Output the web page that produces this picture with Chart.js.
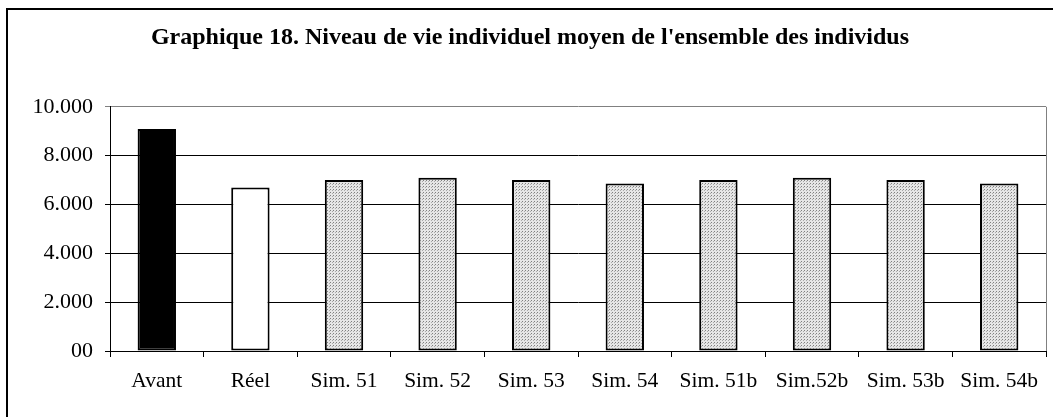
<!DOCTYPE html>
<html>
<head>
<meta charset="utf-8">
<script src="https://cdn.jsdelivr.net/npm/chart.js@4"></script>
<style>
  html, body { margin: 0; padding: 0; background: #fff; }
  #wrap { width: 1056px; height: 417px; position: relative; }
</style>
</head>
<body>
<div id="wrap"><canvas id="chrt" width="1056" height="417"></canvas></div>
<script>
// chart data
const labels = ['Avant', 'Réel', 'Sim. 51', 'Sim. 52', 'Sim. 53', 'Sim. 54', 'Sim. 51b', 'Sim.52b', 'Sim. 53b', 'Sim. 54b'];
const values = [9090, 6700, 7000, 7090, 7000, 6860, 7000, 7090, 7000, 6860];
const yTicks = [0, 2000, 4000, 6000, 8000, 10000];
const yTickLabels = ['00', '2.000', '4.000', '6.000', '8.000', '10.000'];
const titleText = "Graphique 18. Niveau de vie individuel moyen de l'ensemble des individus";

// dotted grey fill like the old excel pattern
function dotPattern() {
    let c = document.createElement('canvas');
    c.width = 3; c.height = 3;
    let g = c.getContext('2d');
    g.fillStyle = '#e6e6e6';
    g.fillRect(0, 0, 3, 3);
    g.fillStyle = '#808080';
    g.fillRect(0, 0, 1, 1);
    g.fillStyle = '#aaaaaa';
    g.fillRect(2, 1, 1, 1);
    return g.createPattern(c, 'repeat');
}

let ctx = document.getElementById('chrt').getContext('2d');
let dots = dotPattern();
let fills = values.map(function(v, i) {
    if (i === 0) return '#000000';
    if (i === 1) return '#ffffff';
    return dots;
});

const framePlugin = {
    id: 'frame',
    beforeDraw: function(chart) {
        let c = chart.ctx;
        c.save();
        c.fillStyle = '#fff';
        c.fillRect(0, 0, chart.width, chart.height);
        c.strokeStyle = '#000';
        c.lineWidth = 2;
        c.beginPath();
        c.moveTo(7, 417);
        c.lineTo(7, 9);
        c.lineTo(1053, 9);
        c.stroke();
        c.restore();
    },
    afterDraw: function(chart) {
        let a = chart.chartArea;
        let c = chart.ctx;
        c.save();
        c.strokeStyle = '#808080';
        c.lineWidth = 1;
        c.beginPath();
        c.moveTo(a.right + 0.5, a.top);
        c.lineTo(a.right + 0.5, a.bottom);
        c.stroke();
        c.restore();
    }
};

let myBar = new Chart(ctx, {
    type: 'bar',
    data: {
        labels: labels,
        datasets: [{
            data: values,
            backgroundColor: fills,
            borderColor: '#000',
            borderWidth: 2,
            borderSkipped: false,
            categoryPercentage: 1,
            barPercentage: 0.41
        }]
    },
    options: {
        responsive: false,
        animation: false,
        layout: { padding: { left: 14, right: 10, top: 0, bottom: 0 } },
        plugins: {
            legend: { display: false },
            tooltip: { enabled: false },
            title: {
                display: true,
                text: titleText,
                color: '#000',
                font: { family: 'Liberation Serif', size: 24, weight: 'bold', lineHeight: 1.2 },
                padding: { top: 23, bottom: 55 }
            }
        },
        scales: {
            x: {
                afterFit: function(s) { s.height = 66; },
                grid: { offset: true, drawOnChartArea: false, tickLength: 6, color: '#000' },
                border: { color: '#000', width: 1 },
                ticks: {
                    color: '#000',
                    padding: 11,
                    font: { family: 'Liberation Serif', size: 21.5 }
                }
            },
            y: {
                min: 0,
                max: 10000,
                afterFit: function(s) { s.width = 96; },
                afterBuildTicks: function(s) { s.ticks = yTicks.map(function(v) { return { value: v }; }); },
                grid: {
                    tickLength: 5,
                    color: function(c) { return c.tick && c.tick.value === 10000 ? '#808080' : '#000'; }
                },
                border: { color: '#000', width: 1 },
                ticks: {
                    color: '#000',
                    padding: 12,
                    font: { family: 'Liberation Serif', size: 22 },
                    callback: function(v) { return yTickLabels[yTicks.indexOf(v)]; }
                }
            }
        }
    },
    plugins: [framePlugin]
});
</script>
</body>
</html>
